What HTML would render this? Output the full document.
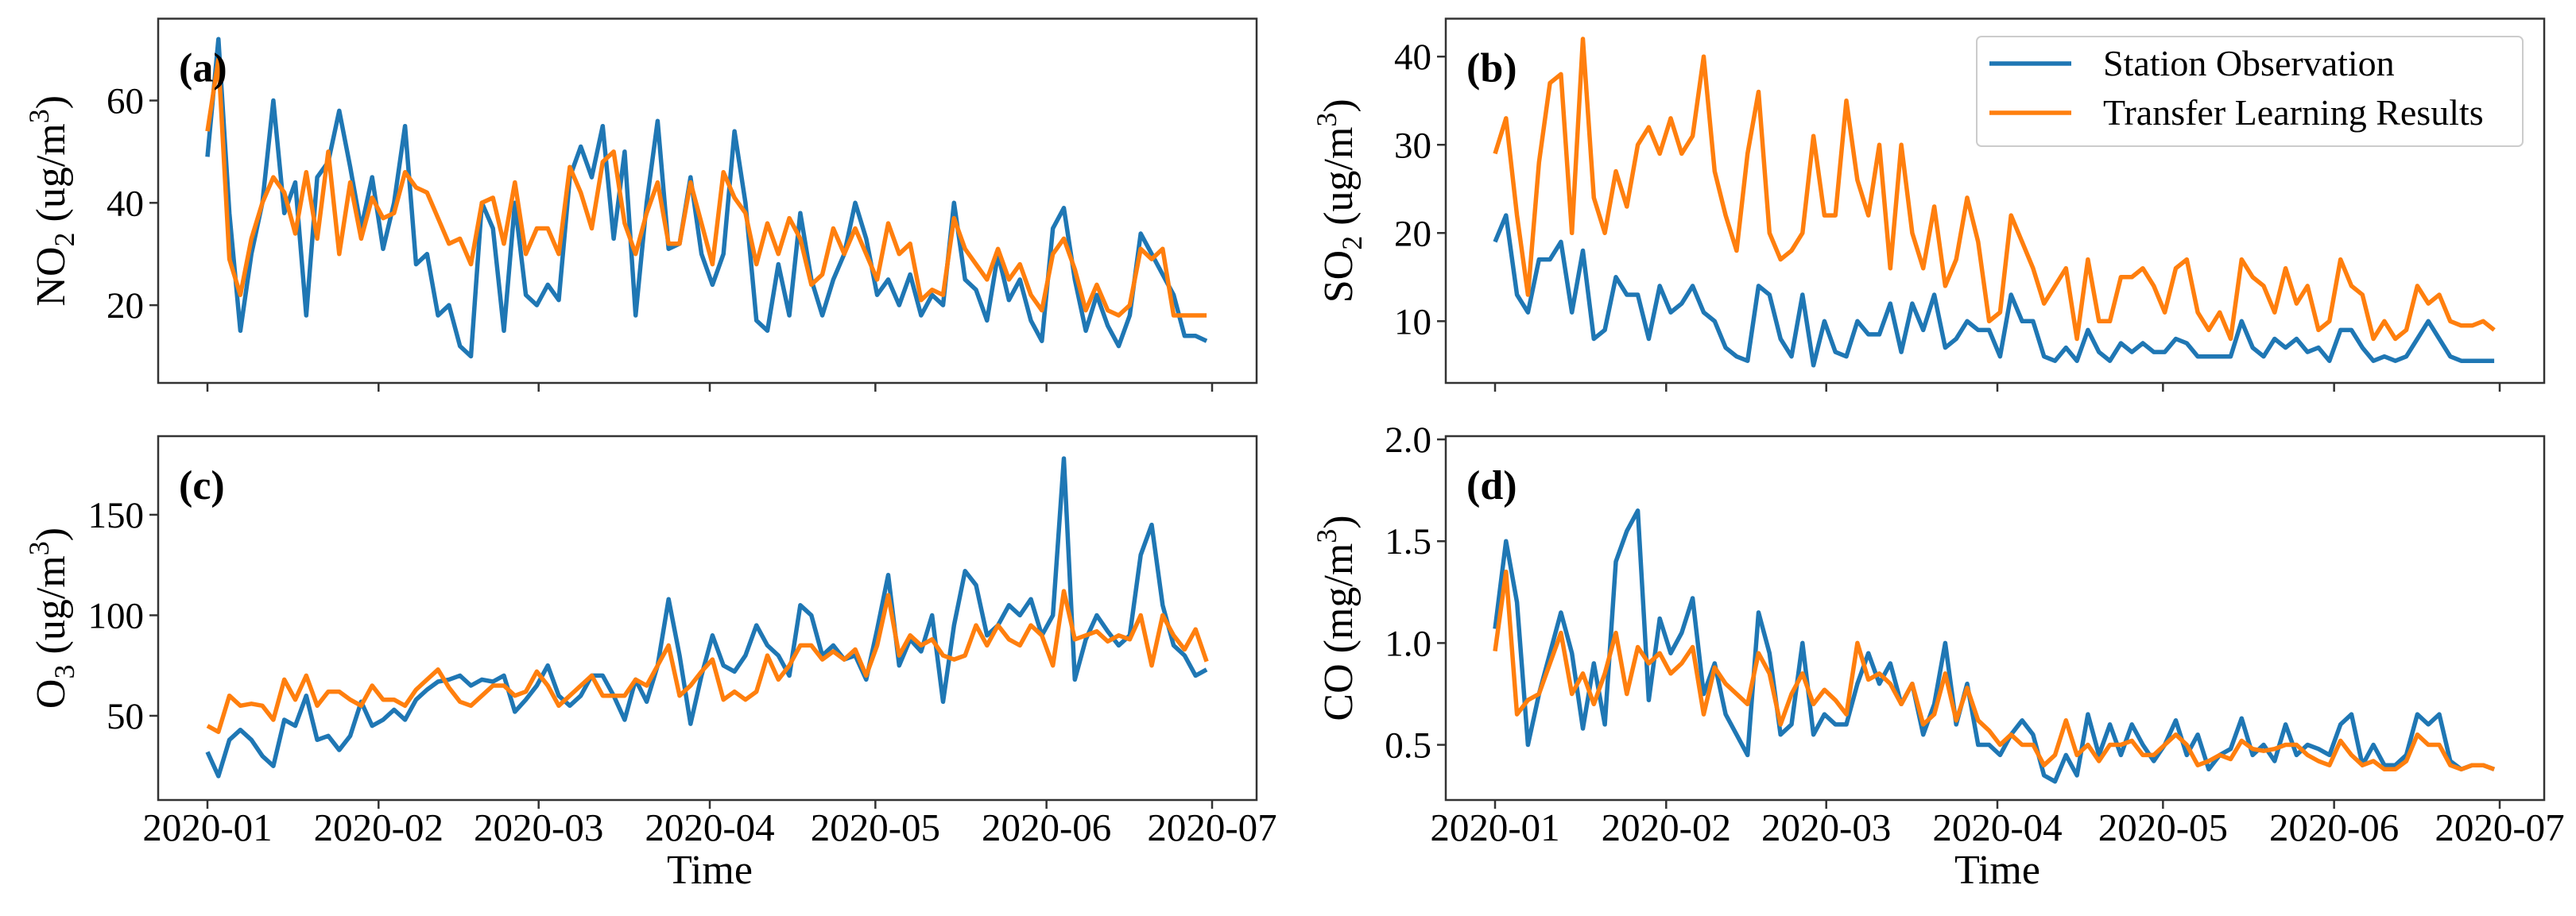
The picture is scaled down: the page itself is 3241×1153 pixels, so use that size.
<!DOCTYPE html>
<html>
<head>
<meta charset="utf-8">
<style>
html,body{margin:0;padding:0;background:#fff;}
svg{display:block;}
svg text{font-family:"Liberation Serif","DejaVu Serif",serif;fill:#000;}
</style>
</head>
<body>
<svg id="fig" width="3241" height="1153" viewBox="0 0 3241 1153" xmlns="http://www.w3.org/2000/svg" font-family="Liberation Serif, DejaVu Serif, serif"></svg>
<script>
const tickLabels = ["2020-01","2020-02","2020-03","2020-04","2020-05","2020-06","2020-07"];
const tickDays = [0,31,60,91,121,152,182];
const no2Obs = [49,72,38,15,30,40,60,38,44,18,45,48,58,47,35,45,31,40,55,28,30,18,20,12,10,40,35,15,40,22,20,24,21,45,51,45,55,33,50,18,40,56,31,32,45,30,24,30,54,40,17,15,28,18,38,25,18,25,30,40,33,22,25,20,26,18,22,20,40,25,23,17,30,21,25,17,13,35,39,25,15,22,16,12,18,34,30,26,22,14,14,13];
const no2Pred = [54,68,29,22,33,40,45,42,34,46,33,50,30,44,33,41,37,38,46,43,42,37,32,33,28,40,41,32,44,30,35,35,30,47,42,35,48,50,36,30,38,44,32,32,44,36,28,46,41,38,28,36,30,37,33,24,26,35,30,35,30,25,36,30,32,21,23,22,37,31,28,25,31,25,28,22,19,30,33,27,19,24,19,18,20,31,29,31,18,18,18,18];
const so2Obs = [19,22,13,11,17,17,19,11,18,8,9,15,13,13,8,14,11,12,14,11,10,7,6,5.5,14,13,8,6,13,5,10,6.5,6,10,8.5,8.5,12,6.5,12,9,13,7,8,10,9,9,6,13,10,10,6,5.5,7,5.5,9,6.5,5.5,7.5,6.5,7.5,6.5,6.5,8,7.5,6,6,6,6,10,7,6,8,7,8,6.5,7,5.5,9,9,7,5.5,6,5.5,6,8,10,8,6,5.5,5.5,5.5,5.5];
const so2Pred = [29,33,22,13,28,37,38,20,42,24,20,27,23,30,32,29,33,29,31,40,27,22,18,29,36,20,17,18,20,31,22,22,35,26,22,30,16,30,20,16,23,14,17,24,19,10,11,22,19,16,12,14,16,8,17,10,10,15,15,16,14,11,16,17,11,9,11,8,17,15,14,11,16,12,14,9,10,17,14,13,8,10,8,9,14,12,13,10,9.5,9.5,10,9];
const o3Obs = [32,20,38,43,38,30,25,48,45,60,38,40,33,40,57,45,48,53,48,58,63,67,68,70,65,68,67,70,52,58,65,75,60,55,60,70,70,60,48,68,57,75,108,80,46,70,90,75,72,80,95,85,80,70,105,100,80,85,78,80,68,93,120,75,88,82,100,57,95,122,115,90,95,105,100,108,90,100,178,68,88,100,92,85,90,130,145,105,85,80,70,73];
const o3Pred = [45,42,60,55,56,55,48,68,58,70,55,62,62,58,55,65,58,58,55,63,68,73,64,57,55,60,65,65,60,62,72,65,55,60,65,70,60,60,60,68,65,75,85,60,65,72,78,58,62,58,62,80,68,75,85,85,78,82,78,83,70,85,110,80,90,85,88,80,78,80,95,85,95,88,85,95,90,75,112,88,90,92,87,90,88,100,75,100,90,83,93,77];
const coObs = [1.07,1.5,1.2,0.5,0.75,0.95,1.15,0.95,0.58,0.9,0.6,1.4,1.55,1.65,0.72,1.12,0.95,1.05,1.22,0.75,0.9,0.65,0.55,0.45,1.15,0.95,0.55,0.6,1.0,0.55,0.65,0.6,0.6,0.8,0.95,0.8,0.9,0.7,0.8,0.55,0.7,1.0,0.6,0.8,0.5,0.5,0.45,0.55,0.62,0.55,0.35,0.32,0.45,0.35,0.65,0.45,0.6,0.45,0.6,0.5,0.42,0.5,0.62,0.45,0.55,0.38,0.45,0.48,0.63,0.45,0.5,0.42,0.6,0.45,0.5,0.48,0.45,0.6,0.65,0.4,0.5,0.4,0.4,0.45,0.65,0.6,0.65,0.42,0.38,0.4,0.4,0.38];
const coPred = [0.96,1.35,0.65,0.72,0.75,0.9,1.05,0.75,0.85,0.7,0.85,1.05,0.75,0.98,0.9,0.95,0.85,0.9,0.98,0.65,0.88,0.8,0.75,0.7,0.95,0.85,0.6,0.75,0.85,0.7,0.77,0.72,0.65,1.0,0.82,0.85,0.8,0.7,0.8,0.6,0.65,0.85,0.62,0.78,0.62,0.57,0.5,0.55,0.5,0.5,0.4,0.45,0.62,0.45,0.5,0.42,0.5,0.5,0.52,0.45,0.45,0.5,0.55,0.5,0.4,0.42,0.45,0.43,0.52,0.48,0.47,0.48,0.5,0.5,0.45,0.42,0.4,0.52,0.45,0.4,0.42,0.38,0.38,0.42,0.55,0.5,0.5,0.4,0.38,0.4,0.4,0.38];

const NS="http://www.w3.org/2000/svg";
const svg=document.getElementById('fig');
const FF='Liberation Serif, DejaVu Serif, serif';
function mk(tag,attrs,parent){const e=document.createElementNS(NS,tag);for(const k in attrs)e.setAttribute(k,attrs[k]);if(tag==='text')e.setAttribute('font-family',FF);(parent||svg).appendChild(e);return e;}

const panels=[
 {id:'a',L:199,R:1581,T:23.5,B:482,x0:261,ymin:4.8,ymax:76.0,ticks:[20,40,60],tl:["20","40","60"],obs:no2Obs,pred:no2Pred,lab:'NO',sub:'2',unit:'ug/m',sup:'3',xl:false},
 {id:'b',L:1819,R:3201,T:23.5,B:482,x0:1881,ymin:3.0,ymax:44.3,ticks:[10,20,30,40],tl:["10","20","30","40"],obs:so2Obs,pred:so2Pred,lab:'SO',sub:'2',unit:'ug/m',sup:'3',xl:false},
 {id:'c',L:199,R:1581,T:549,B:1007,x0:261,ymin:8.1,ymax:189.1,ticks:[50,100,150],tl:["50","100","150"],obs:o3Obs,pred:o3Pred,lab:'O',sub:'3',unit:'ug/m',sup:'3',xl:true},
 {id:'d',L:1819,R:3201,T:549,B:1007,x0:1881,ymin:0.229,ymax:2.016,ticks:[0.5,1.0,1.5,2.0],tl:["0.5","1.0","1.5","2.0"],obs:coObs,pred:coPred,lab:'CO',sub:'',unit:'mg/m',sup:'3',xl:true}
];
const pxPerDay=(1525-261)/182;

panels.forEach(p=>{
  const g=mk('g',{});
  
  
  const xs=d=>p.x0+d*pxPerDay;
  const ys=v=>p.B-(v-p.ymin)/(p.ymax-p.ymin)*(p.B-p.T);
  const clipId='clip'+p.id;
  const cp=mk('clipPath',{id:clipId},g);
  mk('rect',{x:p.L,y:p.T,width:p.R-p.L,height:p.B-p.T},cp);
  [[p.obs,'#1f77b4','observed'],[p.pred,'#ff7f0e','predicted']].forEach(([arr,col,nm])=>{
    const n=arr.length;
    const pts=arr.map((v,i)=>xs(i*181/(n-1)).toFixed(1)+','+ys(v).toFixed(1)).join(' ');
    const pl=mk('polyline',{points:pts,fill:'none',stroke:col,'stroke-width':5.5,'stroke-linejoin':'round','clip-path':'url(#'+clipId+')'},g);
    
    
  });
  const fr=mk('rect',{x:p.L,y:p.T,width:p.R-p.L,height:p.B-p.T,fill:'none',stroke:'#333','stroke-width':2.5},g);
  
  
  tickDays.forEach((d,i)=>{
    mk('line',{x1:xs(d),x2:xs(d),y1:p.B,y2:p.B+11,stroke:'#333','stroke-width':2.5},g);
    if(p.xl){
      const t=mk('text',{x:xs(d),y:1058,'text-anchor':'middle','font-size':49},g);
      t.textContent=tickLabels[i];
      
      
    }
  });
  p.ticks.forEach((v,i)=>{
    mk('line',{x1:p.L-11,x2:p.L,y1:ys(v),y2:ys(v),stroke:'#333','stroke-width':2.5},g);
    const t=mk('text',{x:p.L-18,y:ys(v)+16,'text-anchor':'end','font-size':47},g);
    t.textContent=p.tl[i];
    
    
  });
  const cy=(p.T+p.B)/2;
  const yl=mk('text',{x:0,y:0,'text-anchor':'middle','font-size':52,transform:'translate('+(p.L-118)+','+cy+') rotate(-90)'},g);
  
  
  let h=p.lab;
  if(p.sub) h+='<tspan font-size="36" dy="12">'+p.sub+'</tspan><tspan dy="-12"> (</tspan>'; else h+=' (';
  h+=p.unit+'<tspan font-size="36" dy="-20">'+p.sup+'</tspan><tspan dy="20">)</tspan>';
  yl.innerHTML=h;
  const pl=mk('text',{x:p.L+26,y:p.T+79,'font-size':52,'font-weight':'bold'},g);
  pl.textContent='('+p.id+')';
  
  
  if(p.xl){
    const xt=mk('text',{x:(xs(0)+xs(182))/2,y:1112,'text-anchor':'middle','font-size':52},g);
    xt.textContent='Time';
    
    
  }
});

const lg=mk('g',{});


mk('rect',{x:2487,y:46,width:687,height:138,rx:6,fill:'#fff',stroke:'#ccc','stroke-width':2},lg);
[['Station Observation','#1f77b4',80],['Transfer Learning Results','#ff7f0e',142]].forEach(([lab,col,y])=>{
  const e=mk('g',{},lg);
  
  
  mk('line',{x1:2503,x2:2606,y1:y,y2:y,stroke:col,'stroke-width':5.5},e);
  const t=mk('text',{x:2646,y:y+15,'font-size':46},e);
  t.textContent=lab;
});
</script>
</body>
</html>
